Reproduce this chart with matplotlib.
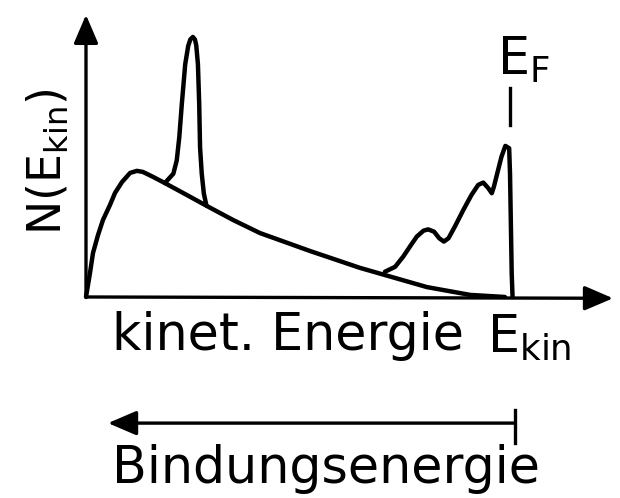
import matplotlib
matplotlib.use("Agg")
import matplotlib.pyplot as plt
import numpy as np

plt.rcParams['font.family'] = ['DejaVu Sans']
plt.rcParams['mathtext.default'] = 'regular'

# Untergrund (Sekundaerelektronen), x: E_kin mit E_F = 100, y: Intensitaet
bg_x = [0, 0.94, 1.65, 2.83, 4.0, 5.66, 6.84, 8.49, 10.4, 12.0, 13.4, 15.8, 18.6,
        23.8, 28.5, 34.7, 41.0, 52.8, 64.6, 80.4, 90.6, 98.8]
bg_y = [0, 9.2, 16.9, 23.8, 29.6, 35.4, 40.0, 44.2, 47.7, 48.5, 48.1, 46.2, 43.8,
        39.2, 35.0, 29.6, 24.6, 17.7, 11.2, 3.8, 0.8, 0]

# scharfe Linie (Rumpfniveau)
pk_x = [18.6, 20.6, 21.4, 22.0, 22.6, 23.4, 24.1, 24.6, 25.2, 25.7, 26.0, 26.4,
        26.7, 26.9, 27.3, 27.8, 28.4]
pk_y = [43.8, 47.4, 52.5, 61.4, 74.2, 89.5, 96.5, 99.0, 100.0, 99.0, 96.8, 89.5,
        74.2, 57.6, 47.4, 39.7, 35.2]

# Valenzband bis E_F
vb_x = [70.5, 72.9, 74.8, 76.4, 78.0, 79.6, 80.7, 82.1, 83.3, 84.4, 85.5, 87.0,
        89.0, 90.9, 92.5, 93.7, 94.9, 95.7, 96.2, 97.0, 98.0, 98.9, 99.8, 100.0,
        100.2, 100.4, 100.6]
vb_y = [9.7, 11.6, 15.5, 19.4, 23.2, 25.5, 26.0, 25.1, 22.6, 21.3, 22.6, 27.1,
        33.5, 39.2, 43.1, 44.0, 41.8, 39.9, 42.4, 47.6, 54.0, 58.1, 57.2, 47.6,
        28.4, 9.1, 0]

fig = plt.figure(figsize=(6.2, 4.98), dpi=100)
ax = fig.add_axes([0, 0, 1, 1])
ax.set_xlim(-20.28, 125.94)
ax.set_ylim(-77.3, 114.2)
ax.axis('off')

lw = 3.2
for xs, ys in [(bg_x, bg_y), (pk_x, pk_y), (vb_x, vb_y)]:
    ax.plot(xs, ys, color='black', lw=lw, solid_capstyle='round', solid_joinstyle='round')

# Achsen mit Pfeilen
arr = dict(arrowstyle='-|>,head_length=0.7,head_width=0.3', lw=2.4, color='black',
           shrinkA=0, shrinkB=0, mutation_scale=25)
ax.annotate('', xy=(0, 108.5), xytext=(0, 0), arrowprops=arr)
ax.annotate('', xy=(124.3, -0.5), xytext=(0, 0), arrowprops=arr)

fs = 36.5

# E_F Markierung
ax.plot([100, 100], [66.2, 80.4], color='black', lw=2.4)
ax.text(97.0, 85.4, 'E$_F$', fontsize=fs, ha='left', va='baseline')

# Achsenbeschriftungen
ax.text(-9.0, 52.1, 'N(E$_{kin}$)', fontsize=33, rotation=90, ha='center', va='center')
ax.text(6.13, -20.4, 'kinet. Energie', fontsize=fs, ha='left', va='baseline')
ax.text(94.6, -21.2, 'E$_{kin}$', fontsize=fs, ha='left', va='baseline')

# Bindungsenergie-Pfeil
ax.annotate('', xy=(5.19, -48.5), xytext=(101.2, -48.5), arrowprops=arr)
ax.plot([101.2, 101.2], [-43.5, -56.2], color='black', lw=2.4)
ax.text(6.13, -71.5, 'Bindungsenergie', fontsize=fs, ha='left', va='baseline')

fig.savefig('out.png', dpi=100)
